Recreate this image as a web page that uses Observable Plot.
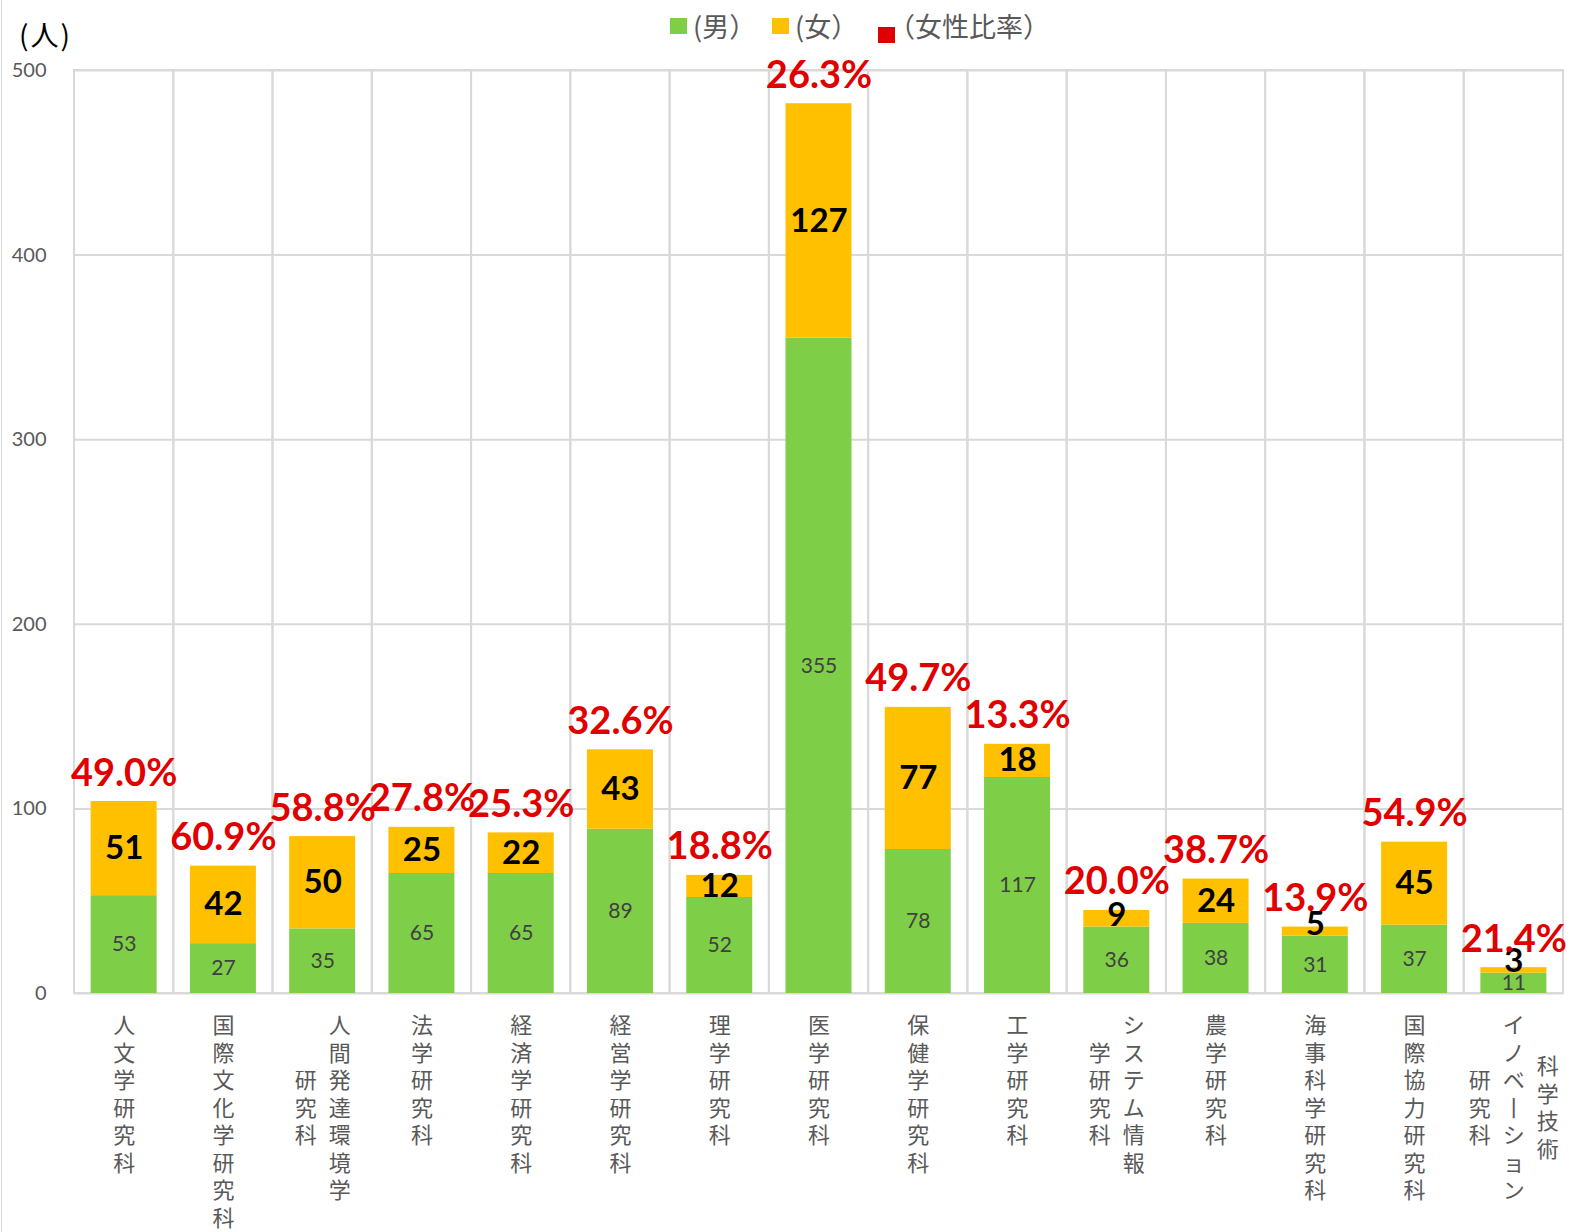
<!DOCTYPE html>
<html>
<head>
<meta charset="utf-8">
<script src="https://cdn.jsdelivr.net/npm/d3@7"></script>
<script src="https://cdn.jsdelivr.net/npm/@observablehq/plot@0.6"></script>
<style>
  html, body { margin: 0; padding: 0; background: #fff; }
  #wrap { position: relative; width: 1573px; height: 1232px; overflow: hidden; }
  #edge { position: absolute; left: 1px; top: 0; width: 1px; height: 1232px; background: #d9d9d9; }
  #chart { position: absolute; left: 0; top: 0; }
  #unit { position: absolute; left: 19px; top: 19px; font: 28px "Noto Sans CJK JP", sans-serif; letter-spacing: 2px; color: #000; line-height: 30px; }
  .leg-sw { position: absolute; width: 17px; height: 16px; }
  .leg-tx { position: absolute; font: 27px "Noto Sans CJK JP", sans-serif; color: #595959; line-height: 28px; white-space: nowrap; }
</style>
</head>
<body>
<div id="wrap">
  <div id="chart"></div>
  <div id="edge"></div>
  <div id="unit">(人)</div>
</div>
<script>
// ---- data ----
const categories = ["人文学研究科","国際文化学研究科","人間発達環境学研究科","法学研究科","経済学研究科","経営学研究科","理学研究科","医学研究科","保健学研究科","工学研究科","システム情報学研究科","農学研究科","海事科学研究科","国際協力研究科","科学技術イノベーション研究科"];
const labelLines = [["人文学研究科"],["国際文化学研究科"],["人間発達環境学","研究科"],["法学研究科"],["経済学研究科"],["経営学研究科"],["理学研究科"],["医学研究科"],["保健学研究科"],["工学研究科"],["システム情報","学研究科"],["農学研究科"],["海事科学研究科"],["国際協力研究科"],["科学技術","イノベーション","研究科"]];
const male   = [53, 27, 35, 65, 65, 89, 52, 355, 78, 117, 36, 38, 31, 37, 11];
const female = [51, 42, 50, 25, 22, 43, 12, 127, 77, 18, 9, 24, 5, 45, 3];
const femaleRatio = ["49.0%","60.9%","58.8%","27.8%","25.3%","32.6%","18.8%","26.3%","49.7%","13.3%","20.0%","38.7%","13.9%","54.9%","21.4%"];
const yTicks = [0, 100, 200, 300, 400, 500];
const seriesNames = ["(男）", "(女）", "（女性比率）"];
const seriesColors = ["#7ECE48", "#FFC000", "#E00000"];

// ---- layout ----
const W = 1573, H = 1232;
const mL = 74, mR = 10, mT = 70, mB = 239;
const step = (W - mL - mR) / categories.length;
const barW = 66;
const inset = (step - barW) / 2;
const gridColor = "#D9D9D9";

// ---- derived tables ----
const stackRows = [];
categories.forEach((c, i) => {
  stackRows.push({cat: c, sex: "男", v: male[i]});
  stackRows.push({cat: c, sex: "女", v: female[i]});
});
const totals = categories.map((c, i) => ({cat: c, m: male[i], f: female[i], total: male[i] + female[i], ratio: femaleRatio[i]}));
const femaleBig = totals.filter(d => d.f >= 14);
const femaleSmall = totals.filter(d => d.f < 14);

// vertical (tategaki) label columns: one character per line, columns right-to-left
const labelFont = 22, charAdv = 27.5, colGap = 34, labelTop = 20;
const toVertical = s => [...s].map(ch => ch === "ー" ? "丨" : ch).join("\n");
const labelRows = [];
categories.forEach((c, i) => {
  const cols = labelLines[i];
  const n = cols.length;
  const maxLen = Math.max(...cols.map(s => [...s].length));
  cols.forEach((s, j) => {
    labelRows.push({cat: c, text: toVertical(s), dx: ((n - 1) / 2 - j) * colGap, dy: labelTop + (maxLen - [...s].length) / 2 * charAdv});
  });
});
const groups = d3.groups(labelRows, d => d.dx + "|" + d.dy);
const labelMarks = groups.map(([k, rows]) => Plot.text(rows, {
  x: "cat", text: "text", frameAnchor: "bottom",
  dx: rows[0].dx, dy: rows[0].dy,
  textAnchor: "middle", lineAnchor: "top", lineHeight: charAdv / labelFont,
  fontSize: labelFont, fill: "#595959",
  fontFamily: "'Noto Sans CJK JP', sans-serif"
}));

const chart = Plot.plot({
  width: W, height: H,
  marginLeft: mL, marginRight: mR, marginTop: mT, marginBottom: mB,
  style: {fontFamily: "Lato, 'Noto Sans CJK JP', sans-serif", background: "transparent", overflow: "visible"},
  x: {domain: categories, padding: 0, round: false, axis: null},
  y: {domain: [0, 500], axis: null},
  color: {domain: ["男", "女"], range: [seriesColors[0], seriesColors[1]]},
  marks: [
    Plot.ruleY(yTicks, {y: d => d, stroke: gridColor, strokeWidth: 2}),
    Plot.barY(categories, {x: d => d, y1: 0, y2: 500, fill: "none", stroke: gridColor, strokeWidth: 2}),
    Plot.axisY(yTicks, {tickSize: 0, tickPadding: 28, fontSize: 20, fill: "#595959", label: null, fontFamily: "Lato, sans-serif"}),
    Plot.barY(stackRows, {x: "cat", y: "v", fill: "sex", insetLeft: inset, insetRight: inset}),
    Plot.text(totals, {x: "cat", y: d => d.m / 2, text: d => String(d.m), fontSize: 21, fill: "#404040"}),
    Plot.text(femaleBig, {x: "cat", y: d => d.m + d.f / 2, text: d => String(d.f), fontSize: 33, fontWeight: "bold", fill: "#000"}),
    Plot.text(femaleSmall, {x: "cat", y: d => d.m, text: d => String(d.f), lineAnchor: "bottom", dy: -1, fontSize: 33, fontWeight: "bold", fill: "#000"}),
    Plot.text(totals, {x: "cat", y: "total", text: "ratio", lineAnchor: "bottom", dy: -16, fontSize: 38, fontWeight: "bold", fill: seriesColors[2]}),
    ...labelMarks
  ]
});
document.getElementById("chart").appendChild(chart);

// legend
const wrap = document.getElementById("wrap");
const legendPos = [
  {sw: [670, 18], tx: [693, 12]},
  {sw: [772, 18], tx: [795, 12]},
  {sw: [878, 27], tx: [888, 12]}
];
seriesNames.forEach((name, i) => {
  const sw = document.createElement("div");
  sw.className = "leg-sw";
  sw.style.left = legendPos[i].sw[0] + "px";
  sw.style.top = legendPos[i].sw[1] + "px";
  sw.style.background = seriesColors[i];
  wrap.appendChild(sw);
  const tx = document.createElement("div");
  tx.className = "leg-tx";
  tx.style.left = legendPos[i].tx[0] + "px";
  tx.style.top = legendPos[i].tx[1] + "px";
  tx.textContent = name;
  wrap.appendChild(tx);
});
</script>
</body>
</html>
